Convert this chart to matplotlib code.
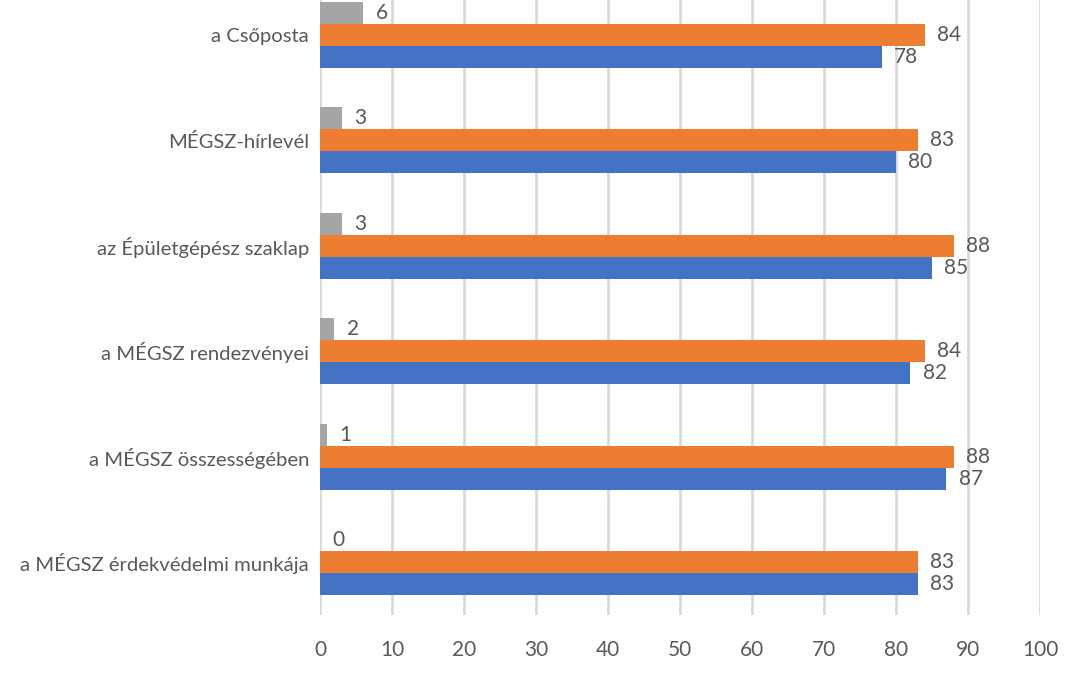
import numpy as np
import matplotlib
matplotlib.use("Agg")
import matplotlib.pyplot as plt

plt.rcParams['font.family'] = ['Lato', 'DejaVu Sans']

categories = ["a MÉGSZ érdekvédelmi munkája", "a MÉGSZ összességében",
              "a MÉGSZ rendezvényei", "az Épületgépész szaklap",
              "MÉGSZ-hírlevél", "a Csőposta"]
blue_vals = [83, 87, 82, 85, 80, 78]
orange_vals = [83, 88, 84, 88, 83, 84]
gray_vals = [0, 1, 2, 3, 3, 6]
xticks = [0, 10, 20, 30, 40, 50, 60, 70, 80, 90, 100]

txt = "#595959"
fig = plt.figure(figsize=(10.8, 6.75), dpi=100)
ax = fig.add_axes([320/1080, (675-615)/675, 720/1080, 615/675])

y = np.arange(len(categories))
h = 0.208
series = [(blue_vals, -h, "#4472C4"), (orange_vals, 0, "#ED7D31"), (gray_vals, h, "#A5A5A5")]
for vals, off, col in series:
    bars = ax.barh(y + off, vals, height=h, color=col, zorder=3)
    for b, v in zip(bars, vals):
        ax.text(v + 1.7, b.get_y() + b.get_height()/2, str(v), va="center", ha="left",
                fontsize=15, color=txt, zorder=4)

ax.set_xlim(0, 100)
ax.set_ylim(-0.5, 5.33)
ax.set_xticks(xticks)
ax.set_yticks(y)
ax.set_yticklabels(categories)
ax.xaxis.grid(True, color="#D9D9D9", linewidth=2, zorder=0)
for s in ax.spines.values():
    s.set_visible(False)
ax.tick_params(axis="y", length=0, labelsize=14.6, colors=txt, pad=8)
ax.tick_params(axis="x", length=0, labelsize=15, colors=txt, pad=18)

fig.savefig("out.png", dpi=100, facecolor="white")
